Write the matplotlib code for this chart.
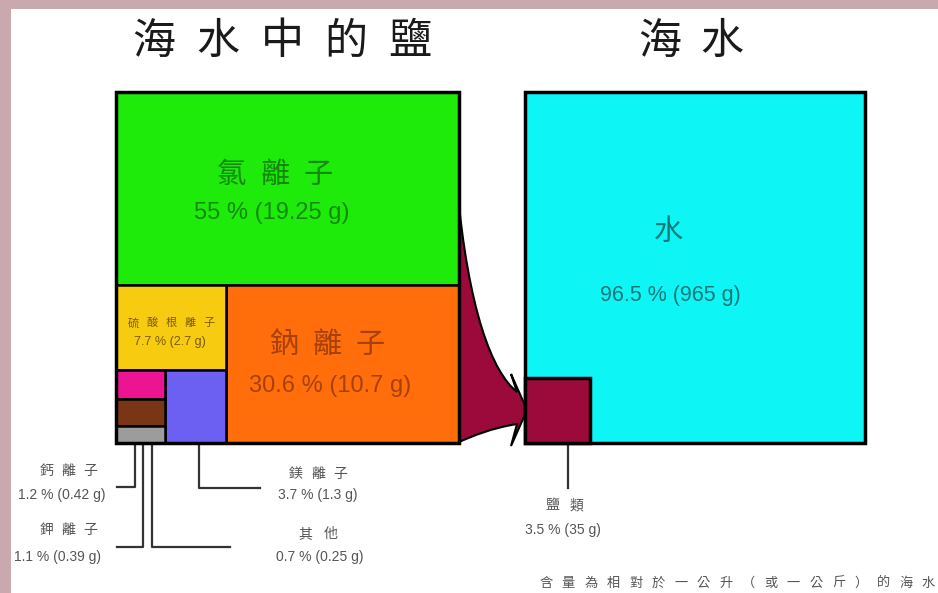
import matplotlib
matplotlib.use("Agg")
import matplotlib.pyplot as plt
from matplotlib.patches import Rectangle, PathPatch
from matplotlib.path import Path

plt.rcParams['font.family'] = ['Noto Sans CJK TC', 'DejaVu Sans']

# ---------------- DATA ----------------
salt_names = ["氯離子", "鈉離子", "硫酸根離子", "鎂離子", "鈣離子", "鉀離子", "其他"]
salt_pct = [55, 30.6, 7.7, 3.7, 1.2, 1.1, 0.7]
salt_gram = [19.25, 10.7, 2.7, 1.3, 0.42, 0.39, 0.25]
salt_colors = ["#1EEB0A", "#FF6E0A", "#F7CC10", "#6C60F2", "#EC1493", "#7A3514", "#9C9C9C"]

sea_names = ["水", "鹽類"]
sea_pct = [96.5, 3.5]
sea_gram = [965, 35]
sea_colors = ["#0DF5F5", "#9C0A3C"]

titles = ["海水中的鹽", "海水"]
note = "含量為相對於一公升（或一公斤）的海水"

# ---------------- HELPERS ----------------
NUM_FONT = ['Liberation Sans', 'DejaVu Sans']

def label(pct, g):
    return f"{pct:g} % ({g:g} g)"

def num(ax, x, y, text, size, color):
    ax.text(x, y, text, ha="center", va="center", fontsize=size, color=color,
            family=NUM_FONT)

def spaced(ax, text, xc, y, pitch, size, color, weight="normal"):
    n = len(text)
    for i, ch in enumerate(text):
        ax.text(xc + (i - (n - 1) / 2) * pitch, y, ch, ha="center", va="center",
                fontsize=size, color=color, fontweight=weight)

def box(ax, x0, y0, x1, y1, color, lw=1.8):
    ax.add_patch(Rectangle((x0, y0), x1 - x0, y1 - y0, facecolor=color,
                           edgecolor="black", lw=lw, zorder=2))

fig = plt.figure(figsize=(9.38, 5.93), dpi=100)
fig.patch.set_facecolor("#C9A8AE")
ax = fig.add_axes([0, 0, 1, 1])
ax.set_xlim(0, 938)
ax.set_ylim(593, 0)
ax.axis("off")
ax.add_patch(Rectangle((11, 9), 940, 600, facecolor="white", edgecolor="none", zorder=0))

# ---------------- LEFT: SALT TREEMAP (slice and dice) ----------------
L, T, R, B = 116, 92, 459, 443
W, H = R - L, B - T
total = sum(salt_pct)

y_cl = T + H * salt_pct[0] / total
rest = total - salt_pct[0]
x_na = R - W * salt_pct[1] / rest
small = rest - salt_pct[1]
y_so = y_cl + (B - y_cl) * salt_pct[2] / small
tiny = small - salt_pct[2]
x_mg = x_na - (x_na - L) * salt_pct[3] / tiny
tiny3 = tiny - salt_pct[3]
y_ca = y_so + (B - y_so) * salt_pct[4] / tiny3
y_k = y_ca + (B - y_so) * salt_pct[5] / tiny3

# connector arrow (behind boxes)
verts = [(R - 2, 185), (468, 310), (492, 372), (517, 392),
         (511, 374), (527, 410), (511, 446),
         (517, 424), (492, 428), (472, 436), (R - 2, 443), (R - 2, 185)]
codes = [Path.MOVETO, Path.CURVE4, Path.CURVE4, Path.CURVE4,
         Path.LINETO, Path.LINETO, Path.LINETO,
         Path.LINETO, Path.CURVE4, Path.CURVE4, Path.CURVE4, Path.CLOSEPOLY]
ax.add_patch(PathPatch(Path(verts, codes), facecolor=sea_colors[1], edgecolor="black",
                       lw=1.5, zorder=1))

box(ax, L, T, R, y_cl, salt_colors[0])
box(ax, x_na, y_cl, R, B, salt_colors[1])
box(ax, L, y_cl, x_na, y_so, salt_colors[2])
box(ax, x_mg, y_so, x_na, B, salt_colors[3])
box(ax, L, y_so, x_mg, y_ca, salt_colors[4])
box(ax, L, y_ca, x_mg, y_k, salt_colors[5])
box(ax, L, y_k, x_mg, B, salt_colors[6])
ax.add_patch(Rectangle((L, T), W, H, facecolor="none", edgecolor="black", lw=2.5, zorder=3))

# labels inside boxes
spaced(ax, salt_names[0], 275, 175, 43, 21, "#138A0A")
num(ax, 272, 213, label(salt_pct[0], salt_gram[0]), 17, "#138A0A")
spaced(ax, salt_names[1], 327, 345, 43, 21, "#A8400A")
num(ax, 330, 386, label(salt_pct[1], salt_gram[1]), 17, "#A8400A")
spaced(ax, salt_names[2], 171, 323, 19, 8, "#7A5A05")
num(ax, 170, 342, label(salt_pct[2], salt_gram[2]), 9, "#7A5A05")

# leader lines for the small boxes
lc = "#333333"
ax.plot([135, 135, 117], [B, 487, 487], color=lc, lw=1.6, zorder=1)
ax.plot([143, 143, 117], [B, 547, 547], color=lc, lw=1.6, zorder=1)
ax.plot([152, 152, 230], [B, 547, 547], color=lc, lw=1.6, zorder=1)
ax.plot([199, 199, 260], [B, 488, 488], color=lc, lw=1.6, zorder=1)

gc = "#555555"
spaced(ax, salt_names[4], 68, 471, 22, 10, gc)
num(ax, 62, 495, label(salt_pct[4], salt_gram[4]), 10, gc)
spaced(ax, salt_names[5], 68, 530, 22, 10, gc)
num(ax, 58, 557, label(salt_pct[5], salt_gram[5]), 10, gc)
spaced(ax, salt_names[3], 318, 474, 22, 10, gc)
num(ax, 318, 495, label(salt_pct[3], salt_gram[3]), 10, gc)
spaced(ax, salt_names[6], 318, 534, 26, 10, gc)
num(ax, 320, 557, label(salt_pct[6], salt_gram[6]), 10, gc)

# ---------------- RIGHT: SEA WATER ----------------
L2, R2 = 525, 865
W2 = R2 - L2
box(ax, L2, T, R2, B, sea_colors[0], lw=2.5)
side = (sea_pct[1] / sum(sea_pct) * W2 * H) ** 0.5
box(ax, L2, B - side, L2 + side, B, sea_colors[1], lw=2.5)

ax.text(668, 232, sea_names[0], ha="center", va="center", fontsize=21, color="#157878")
num(ax, 670, 295, label(sea_pct[0], sea_gram[0]), 15.5, "#157878")

ax.plot([568, 568], [B, 488], color=lc, lw=1.6, zorder=1)
spaced(ax, sea_names[1], 564, 505, 24, 10, gc)
num(ax, 563, 530, label(sea_pct[1], sea_gram[1]), 10, gc)

# ---------------- TITLES / NOTE ----------------
spaced(ax, titles[0], 282, 42, 64, 31, "#1A1A1A")
spaced(ax, titles[1], 691, 42, 62, 31, "#1A1A1A")
for i, ch in enumerate(note):
    ax.text(546 + i * 22.5, 583, ch, ha="center", va="center", fontsize=9.5, color=gc)

fig.savefig("out.png", dpi=100, facecolor=fig.get_facecolor())
